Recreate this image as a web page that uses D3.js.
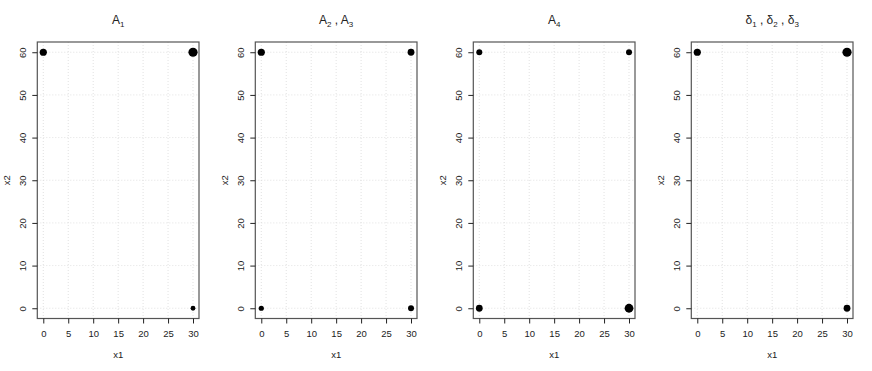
<!DOCTYPE html>
<html>
<head>
<meta charset="utf-8">
<script src="https://cdn.jsdelivr.net/npm/d3@7"></script>
<style>
  body { margin: 0; background: #fff; }
  svg text { font-family: "Liberation Sans", Arial, sans-serif; fill: #222; }
</style>
</head>
<body>
<svg id="chart" width="872" height="371"></svg>
<script>
// Panel titles (main text + subscripts)
const titles = [
    [["A", "1"]],
    [["A", "2"], ["A", "3"]],
    [["A", "4"]],
    [["\u03b4", "1"], ["\u03b4", "2"], ["\u03b4", "3"]]
];

// Design points (corners of the region)
const x1Values = [0, 30, 0, 30];
const x2Values = [60, 60, 0, 0];

// Point radius per design point, one array per panel (0 = not drawn)
const sizesA1 = [3.6, 4.6, 0, 2.4];
const sizesA23 = [3.6, 3.4, 2.6, 3.0];
const sizesA4 = [3.0, 3.0, 3.4, 4.4];
const sizesDelta = [3.6, 4.6, 0, 3.4];
const panelSizes = [sizesA1, sizesA23, sizesA4, sizesDelta];

const xTicks = [0, 5, 10, 15, 20, 25, 30];
const yTicks = [0, 10, 20, 30, 40, 50, 60];

const svg = d3.select("#chart");

const panelWidth = 218;
const box = { left: 37.3, right: 199, top: 42, bottom: 318.5 };

// R style 4% padding around the data range
const x = d3.scaleLinear().domain([-1.2, 31.2]).range([box.left, box.right]);
const y = d3.scaleLinear().domain([-2.4, 62.4]).range([box.bottom, box.top]);

titles.forEach((title, i) => {
    const g = svg.append("g").attr("transform", `translate(${i * panelWidth},0)`);

    // grid
    g.append("g").selectAll("line")
        .data(xTicks).enter().append("line")
        .attr("x1", d => x(d)).attr("x2", d => x(d))
        .attr("y1", box.top).attr("y2", box.bottom)
        .attr("stroke", "#d9d9d9").attr("stroke-width", 0.8)
        .attr("stroke-dasharray", "1,2");
    g.append("g").selectAll("line")
        .data(yTicks).enter().append("line")
        .attr("y1", d => y(d)).attr("y2", d => y(d))
        .attr("x1", box.left).attr("x2", box.right)
        .attr("stroke", "#d9d9d9").attr("stroke-width", 0.8)
        .attr("stroke-dasharray", "1,2");

    // points
    g.append("g").selectAll("circle")
        .data(x1Values.map((v, k) => ({ x1: v, x2: x2Values[k], r: panelSizes[i][k] })).filter(d => d.r > 0))
        .enter().append("circle")
        .attr("cx", d => x(d.x1))
        .attr("cy", d => y(d.x2))
        .attr("r", d => d.r)
        .attr("fill", "#000");

    // box
    g.append("rect")
        .attr("x", box.left).attr("y", box.top)
        .attr("width", box.right - box.left).attr("height", box.bottom - box.top)
        .attr("fill", "none").attr("stroke", "#555").attr("stroke-width", 1.2);

    // axes
    const xAxis = g.append("g")
        .attr("transform", `translate(0,${box.bottom})`)
        .call(d3.axisBottom(x).tickValues(xTicks).tickSize(5).tickPadding(7).tickSizeOuter(0));
    const yAxis = g.append("g")
        .attr("transform", `translate(${box.left},0)`)
        .call(d3.axisLeft(y).tickValues(yTicks).tickSize(5).tickPadding(5).tickSizeOuter(0));
    [xAxis, yAxis].forEach(a => {
        a.select(".domain").remove();
        a.selectAll("line").attr("stroke", "#222");
        a.selectAll("text").style("font-size", "9.5px").attr("fill", "#333");
    });
    yAxis.selectAll(".tick text")
        .attr("text-anchor", "middle")
        .attr("x", null).attr("dy", null)
        .attr("transform", "translate(-14,0) rotate(-90)")
        .attr("dominant-baseline", "middle");

    // axis titles
    g.append("text")
        .attr("x", (box.left + box.right) / 2).attr("y", 358)
        .attr("text-anchor", "middle")
        .style("font-size", "9.5px")
        .text("x1");
    g.append("text")
        .attr("transform", `translate(10,${(box.top + box.bottom) / 2}) rotate(-90)`)
        .attr("text-anchor", "middle")
        .style("font-size", "9.5px")
        .text("x2");

    // title with subscripts
    const t = g.append("text")
        .attr("x", (box.left + box.right) / 2).attr("y", 24)
        .attr("text-anchor", "middle")
        .style("font-size", "12px");
    title.forEach((part, k) => {
        t.append("tspan").attr("dy", k > 0 ? -3 : 0).text((k > 0 ? " , " : "") + part[0]);
        t.append("tspan").attr("dy", 3).style("font-size", "8px").text(part[1]);
    });
});
</script>
</body>
</html>
